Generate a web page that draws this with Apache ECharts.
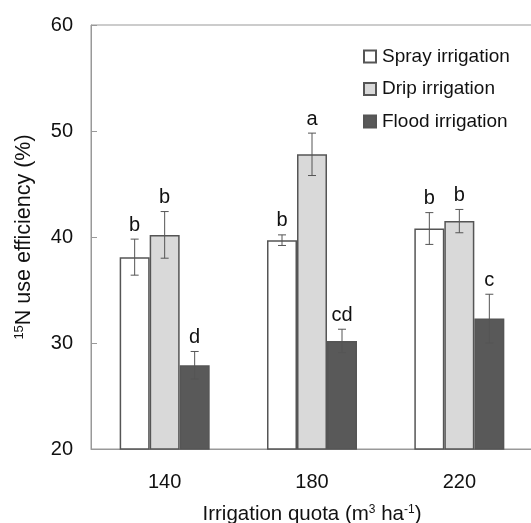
<!DOCTYPE html>
<html>
<head>
<meta charset="utf-8">
<script src="https://cdn.jsdelivr.net/npm/echarts@6/dist/echarts.min.js"></script>
<style>
  html, body { margin: 0; padding: 0; background: #fff; }
  #chart { width: 531px; height: 523px; }
</style>
</head>
<body>
<div id="chart"></div>
<script>
  // irrigation quota categories
  const categories = ['140', '180', '220']
  const seriesNames = ['Spray irrigation', 'Drip irrigation', 'Flood irrigation']

  // 15N use efficiency (%)
  const sprayMean = [38.1, 39.7, 40.8]
  const dripMean = [40.2, 47.8, 41.5]
  const floodMean = [27.9, 30.2, 32.3]

  // standard errors
  const sprayErr = [1.7, 0.5, 1.5]
  const dripErr = [2.2, 2.0, 1.1]
  const floodErr = [1.3, 1.1, 2.3]

  // significance letters
  const sprayLetters = ['b', 'b', 'b']
  const dripLetters = ['b', 'a', 'b']
  const floodLetters = ['d', 'cd', 'c']

  const means = [sprayMean, dripMean, floodMean]
  const errs = [sprayErr, dripErr, floodErr]
  const letters = [sprayLetters, dripLetters, floodLetters]
  const fills = ['#ffffff', '#d9d9d9', '#595959']

  const barW = 30
  const font = 'Liberation Sans, Arial, sans-serif'

  const errData = []
  means.forEach((m, s) => {
    m.forEach((v, i) => {
      errData.push([i, v - errs[s][i], v + errs[s][i], s, letters[s][i]])
    })
  })

  const chart = echarts.init(document.getElementById('chart'))

  chart.setOption({
    animation: false,
    textStyle: {fontFamily: font},
    grid: {
      left: 91,
      right: -2,
      top: 25,
      bottom: 74,
      outerBoundsMode: 'none',
      containLabel: false,
      show: true,
      borderColor: '#999',
      borderWidth: 1
    },
    legend: {
      orient: 'vertical',
      left: 358,
      top: 42,
      itemWidth: 12,
      itemHeight: 12,
      itemGap: 13.5,
      icon: 'rect',
      data: seriesNames,
      textStyle: {fontSize: 19, color: '#111', padding: [0, 0, 0, 1]}
    },
    xAxis: {
      type: 'category',
      data: categories,
      name: 'Irrigation quota (m{sup|3} ha{sup|-1})',
      nameLocation: 'middle',
      nameGap: 55,
      nameTextStyle: {
        fontSize: 20.5, color: '#111',
        rich: {sup: {fontSize: 12, verticalAlign: 'top', padding: [0, 0, 9, 0], color: '#111'}}
      },
      axisLine: {lineStyle: {color: '#999', width: 1}},
      axisTick: {inside: true, length: 6, lineStyle: {color: '#999'}},
      axisLabel: {fontSize: 20, color: '#111', margin: 23}
    },
    yAxis: {
      type: 'value',
      min: 20,
      max: 60,
      interval: 10,
      name: '{sup|15}N use efficiency (%)',
      nameLocation: 'middle',
      nameGap: 56,
      nameTextStyle: {
        fontSize: 21.5, color: '#111',
        rich: {sup: {fontSize: 13, verticalAlign: 'top', padding: [0, 0, 9, 0], color: '#111'}}
      },
      axisLine: {show: true, lineStyle: {color: '#999', width: 1}},
      axisTick: {show: true, inside: true, length: 6, lineStyle: {color: '#999'}},
      axisLabel: {fontSize: 20, color: '#111', margin: 18},
      splitLine: {show: false}
    },
    series: means.map((m, s) => ({
      name: seriesNames[s],
      type: 'bar',
      barWidth: barW,
      barGap: '0%',
      data: m,
      itemStyle: {color: fills[s], borderColor: '#555', borderWidth: 1.5}
    })).concat([{
      type: 'custom',
      data: errData,
      z: 10,
      renderItem: function (params, api) {
        const cat = api.value(0)
        const s = api.value(3)
        const lo = api.coord([cat, api.value(1)])
        const hi = api.coord([cat, api.value(2)])
        const x = lo[0] + (s - 1) * barW
        const cap = 4
        const style = {stroke: '#555', lineWidth: 1}
        return {
          type: 'group',
          children: [
            {type: 'line', shape: {x1: x, y1: lo[1], x2: x, y2: hi[1]}, style: style},
            {type: 'line', shape: {x1: x - cap, y1: lo[1], x2: x + cap, y2: lo[1]}, style: style},
            {type: 'line', shape: {x1: x - cap, y1: hi[1], x2: x + cap, y2: hi[1]}, style: style},
            {
              type: 'text',
              x: x,
              y: hi[1] - 4,
              style: {
                text: api.value(4),
                align: 'center',
                verticalAlign: 'bottom',
                fontSize: 20,
                fontFamily: font,
                fill: '#111'
              }
            }
          ]
        }
      }
    }])
  })
</script>
</body>
</html>
